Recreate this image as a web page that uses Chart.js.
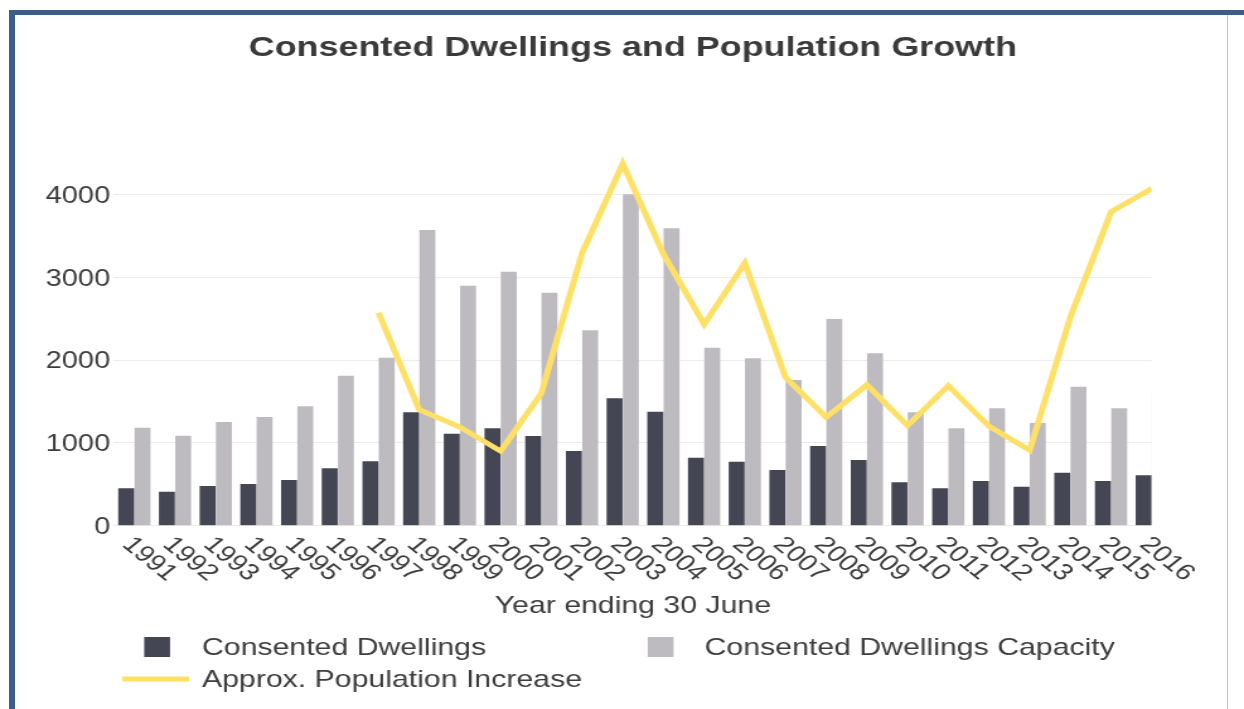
<!DOCTYPE html>
<html>
<head>
<meta charset="utf-8">
<title>Consented Dwellings and Population Growth</title>
<script src="https://cdn.jsdelivr.net/npm/chart.js@4.4.1/dist/chart.umd.min.js"></script>
<style>
  body { margin: 0; background: #fff; overflow: hidden; }
  #wrap { position: relative; width: 1244px; height: 709px; }
  #chart { position: absolute; left: 0; top: 0; }
  .frame { position: absolute; left: 9px; top: 10px; right: 0; bottom: 0;
           border-top: 5px solid #3a5d8c; border-left: 6px solid #3a5d8c; }
  .edge { position: absolute; left: 1227px; top: 15px; bottom: 0; width: 1px; background: #c8c8c8; }
</style>
</head>
<body>
<div id="wrap">
  <!-- the original is a horizontally stretched screenshot, so the canvas is drawn narrow and stretched -->
  <canvas id="chart" width="987" height="709" style="width:1244px;height:709px"></canvas>
  <div class="frame"></div>
  <div class="edge"></div>
</div>
<script>
const years = [1991, 1992, 1993, 1994, 1995, 1996, 1997, 1998, 1999, 2000, 2001, 2002, 2003,
               2004, 2005, 2006, 2007, 2008, 2009, 2010, 2011, 2012, 2013, 2014, 2015, 2016];
const dwellings = [451, 410, 479, 503, 552, 693, 777, 1369, 1110, 1176, 1083, 902, 1538,
                   1376, 821, 773, 672, 962, 793, 524, 451, 540, 471, 640, 540, 608];
const capacity = [1183, 1086, 1252, 1312, 1441, 1811, 2028, 3569, 2897, 3066, 2812, 2358, 4000,
                  3590, 2148, 2020, 1759, 2495, 2081, 1369, 1176, 1417, 1240, 1678, 1417, 1600];
const popIncrease = [null, null, null, null, null, null, 2570, 1400, 1190, 900, 1600, 3290, 4370,
                     3280, 2430, 3170, 1790, 1310, 1700, 1210, 1690, 1200, 910, 2520, 3790, 4070];
const yTicks = [0, 1000, 2000, 3000, 4000];

const FONT = "'Liberation Sans', Arial, sans-serif";
const TEXT = "#3d3d3d";
const DARK = "#444653";
const GREY = "#bdbbbf";
const YELLOW = "#ffe066";

// rotated year labels + the two column legend
const extraText = {
  id: "extraText",
  afterDraw(chart) {
    const ctx = chart.ctx;
    const xScale = chart.scales.x;
    ctx.save();
    ctx.fillStyle = TEXT;
    ctx.font = "23px " + FONT;
    ctx.textAlign = "left";
    ctx.textBaseline = "top";
    years.forEach(yr => {
      const px = xScale.getPixelForValue(yr);
      ctx.save();
      ctx.translate(px + 2, 533);
      ctx.rotate(Math.PI / 4);
      ctx.fillText(String(yr), 0, 0);
      ctx.restore();
    });

    const ds = chart.data.datasets;
    ctx.font = "24px " + FONT;
    ctx.textBaseline = "middle";

    ctx.fillStyle = ds[0].backgroundColor;
    ctx.fillRect(114.4, 637, 20.5, 20);
    ctx.fillStyle = TEXT;
    ctx.fillText(ds[0].label, 160.2, 648);

    ctx.fillStyle = ds[1].backgroundColor;
    ctx.fillRect(513.9, 637, 20.5, 20);
    ctx.fillStyle = TEXT;
    ctx.fillText(ds[1].label, 559, 648);

    ctx.strokeStyle = ds[2].borderColor;
    ctx.lineWidth = 5;
    ctx.beginPath();
    ctx.moveTo(97, 679);
    ctx.lineTo(150, 679);
    ctx.stroke();
    ctx.fillText(ds[2].label, 160.2, 680);
    ctx.restore();
  }
};

new Chart(document.getElementById("chart"), {
  type: "bar",
  data: {
    labels: years,
    datasets: [
      { label: "Consented Dwellings", data: dwellings, backgroundColor: DARK, order: 1, clip: 0,
        categoryPercentage: 0.8, barPercentage: 0.98 },
      { label: "Consented Dwellings Capacity", data: capacity, backgroundColor: GREY, order: 1, clip: 0,
        categoryPercentage: 0.8, barPercentage: 0.98 },
      { type: "line", label: "Approx. Population Increase", data: popIncrease, borderColor: YELLOW,
        borderWidth: 5, pointRadius: 0, tension: 0, order: 0 }
    ]
  },
  options: {
    responsive: false,
    devicePixelRatio: 1,
    animation: false,
    events: [],
    layout: { padding: { top: 0, left: 0, right: 73.2, bottom: 86.9 } },
    plugins: {
      legend: { display: false },
      tooltip: { enabled: false },
      title: {
        display: true,
        text: "Consented Dwellings and Population Growth",
        fullSize: false,
        color: "#3a3a3a",
        font: { family: FONT, size: 28.5, weight: "bold", lineHeight: 1.2 },
        padding: { top: 31, bottom: 87.7 }
      }
    },
    scales: {
      x: {
        type: "linear",
        min: 1990.5,
        max: 2016,
        offset: false,
        grid: { display: false, drawTicks: false },
        border: { display: false },
        ticks: { display: false },
        afterBuildTicks: s => { s.ticks = years.map(v => ({ value: v })); },
        title: {
          display: true,
          text: "Year ending 30 June",
          color: TEXT,
          font: { family: FONT, size: 24, lineHeight: 1.2 },
          padding: { top: 66.6, bottom: 1 }
        }
      },
      y: {
        min: 0,
        max: 4500,
        afterBuildTicks: s => { s.ticks = yTicks.map(v => ({ value: v })); },
        afterFit: s => { s.width = 90.45; },
        grid: { color: "#ececec", lineWidth: 1, drawTicks: false },
        border: { display: false },
        ticks: { color: TEXT, font: { family: FONT, size: 23 }, padding: 3, labelOffset: 2,
                 callback: v => String(v) }
      }
    }
  },
  plugins: [extraText]
});
</script>
</body>
</html>
